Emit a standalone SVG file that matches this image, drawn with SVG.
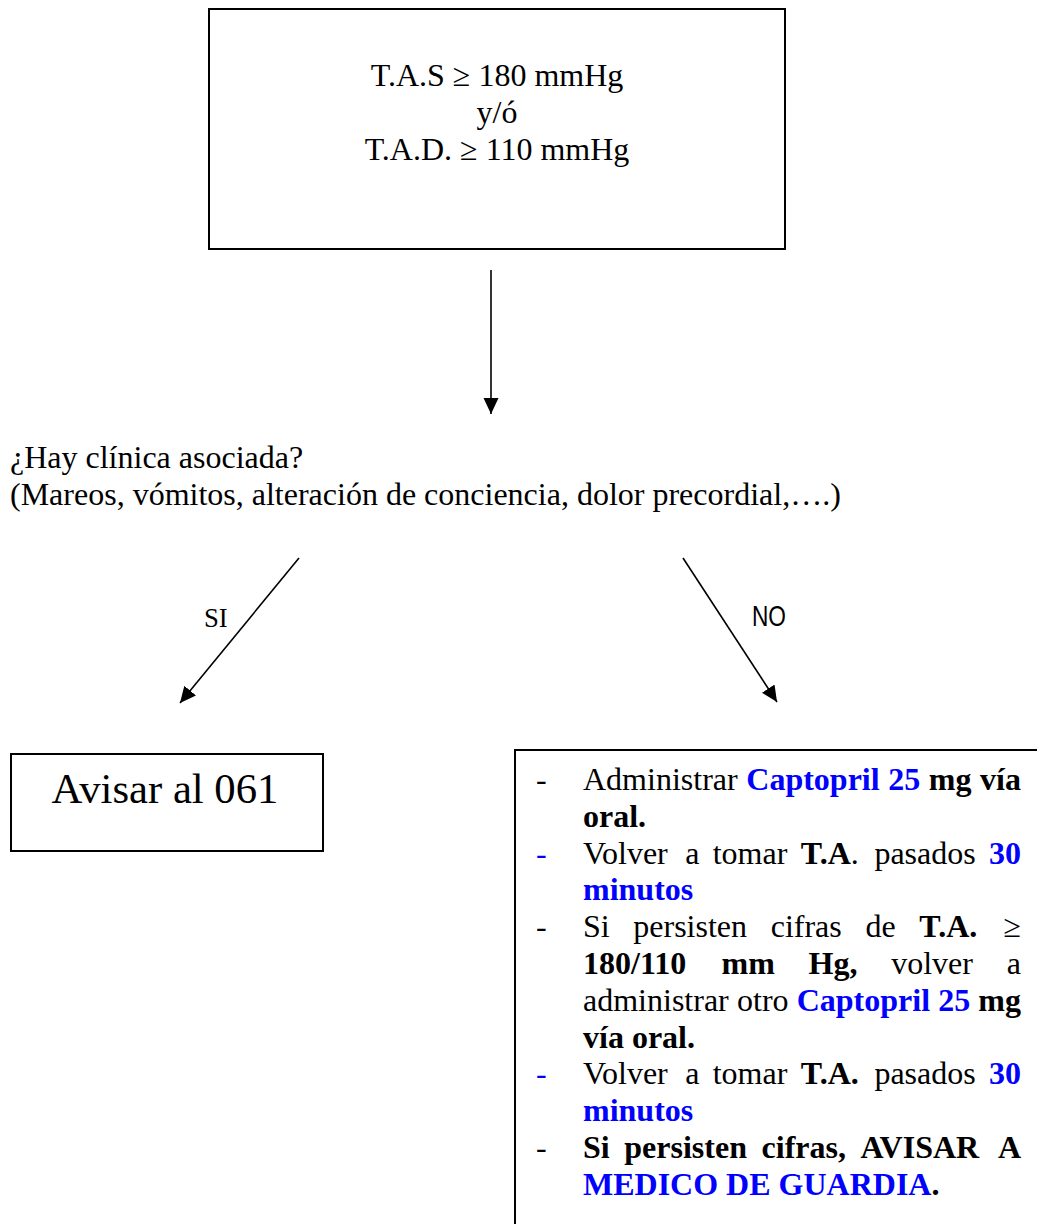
<svg xmlns="http://www.w3.org/2000/svg" width="1037" height="1224" viewBox="0 0 1037 1224">
<style>
text{font-family:"Liberation Serif","Times New Roman",serif;fill:#000}
.box{fill:#fff;stroke:#000;stroke-width:2}
.arr{stroke:#000;stroke-width:1.6;fill:none;marker-end:url(#ah)}
.t32{font-size:32px}
.b{font-weight:bold}
.bl{fill:#0000ff}
</style>
<defs>
<marker id="ah" markerUnits="userSpaceOnUse" markerWidth="17" markerHeight="16" refX="16" refY="7.5" orient="auto" viewBox="0 0 17 16">
<path d="M0,0 L16,7.5 L0,15 z" fill="#000"/>
</marker>
</defs>
<rect width="1037" height="1224" fill="#fff"/>

<g id="node-condicion">
<rect class="box" x="209" y="9" width="576" height="240"/>
<text class="t32" x="497" y="86" text-anchor="middle">T.A.S ≥ 180 mmHg</text>
<text class="t32" x="497" y="122.8" text-anchor="middle">y/ó</text>
<text class="t32" x="497" y="159.6" text-anchor="middle">T.A.D. ≥ 110 mmHg</text>
</g>

<g id="node-pregunta">
<text class="t32" x="10" y="468">¿Hay clínica asociada?</text>
<text class="t32" x="10" y="504.8">(Mareos, vómitos, alteración de conciencia, dolor precordial,….)</text>
</g>

<g id="node-avisar">
<rect class="box" x="11" y="754" width="312" height="97"/>
<text x="165" y="803" font-size="42.7" text-anchor="middle">Avisar al 061</text>
</g>

<g id="node-tratamiento">
<rect class="box" x="515" y="750" width="540" height="500"/>
<g class="t32">
<text x="536" y="790">-</text>
<text y="790"><tspan x="583">Administrar</tspan><tspan x="746.3" class="b bl">Captopril</tspan><tspan x="888.2" class="b bl">25</tspan><tspan x="928.8" class="b">mg</tspan><tspan x="1021" text-anchor="end" class="b">vía</tspan></text>
<text x="583" y="826.8" class="b">oral.</text>
<text x="536" y="863.6" class="bl">-</text>
<text y="863.6"><tspan x="583">Volver</tspan><tspan x="685.2">a</tspan><tspan x="712.7">tomar</tspan><tspan x="800.7" class="b">T.A</tspan><tspan>.</tspan><tspan x="874.4">pasados</tspan><tspan x="1021" text-anchor="end" class="b bl">30</tspan></text>
<text x="583" y="900.4" class="b bl">minutos</text>
<text x="536" y="937.2">-</text>
<text y="937.2"><tspan x="583">Si</tspan><tspan x="633.3">persisten</tspan><tspan x="770.7">cifras</tspan><tspan x="865.4">de</tspan><tspan x="919.2" class="b">T.A.</tspan><tspan x="1021" text-anchor="end">≥</tspan></text>
<text y="974" class="b"><tspan x="583">180/110</tspan><tspan x="721.6">mm</tspan><tspan x="808.6">Hg,</tspan><tspan x="891.2" font-weight="normal">volver</tspan><tspan x="1021" text-anchor="end" font-weight="normal">a</tspan></text>
<text y="1010.8"><tspan x="583">administrar</tspan><tspan x="737">otro</tspan><tspan x="796.7" class="b bl">Captopril</tspan><tspan x="938.2" class="b bl">25</tspan><tspan x="1021" text-anchor="end" class="b">mg</tspan></text>
<text x="583" y="1047.6" class="b">vía oral.</text>
<text x="536" y="1084.4" class="bl">-</text>
<text y="1084.4"><tspan x="583">Volver</tspan><tspan x="685.2">a</tspan><tspan x="712.7">tomar</tspan><tspan x="800.7" class="b">T.A.</tspan><tspan x="874.4">pasados</tspan><tspan x="1021" text-anchor="end" class="b bl">30</tspan></text>
<text x="583" y="1121.2" class="b bl">minutos</text>
<text x="536" y="1158">-</text>
<text y="1158" class="b"><tspan x="583">Si</tspan><tspan x="624.3">persisten</tspan><tspan x="761.6">cifras,</tspan><tspan x="860.6">AVISAR</tspan><tspan x="1021" text-anchor="end">A</tspan></text>
<text x="583" y="1194.8" class="b"><tspan class="bl">MEDICO DE GUARDIA</tspan>.</text>
</g>
</g>

<g id="connectors">
<line class="arr" x1="491" y1="270" x2="491" y2="414"/>
<line class="arr" x1="299" y1="558" x2="180" y2="703"/>
<line class="arr" x1="683" y1="558" x2="777" y2="702"/>
<text x="204" y="627" font-size="26.7">SI</text>
<text x="752" y="626" font-size="29" textLength="34" lengthAdjust="spacingAndGlyphs" style="font-family:'Liberation Sans',Arial,sans-serif">NO</text>
</g>
</svg>
